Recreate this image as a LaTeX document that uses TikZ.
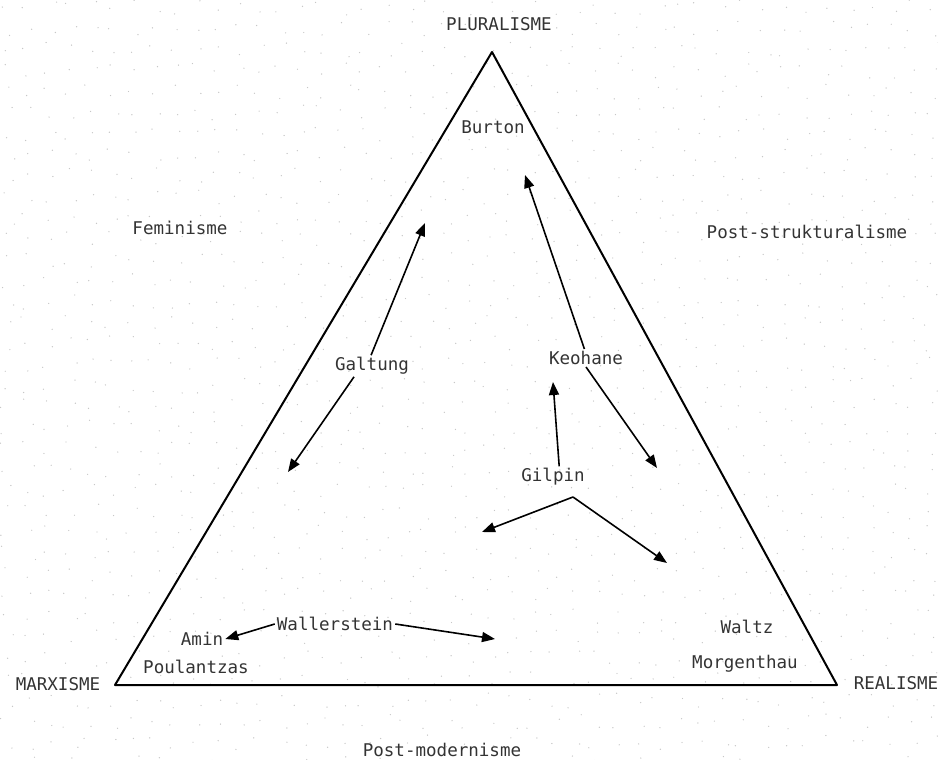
\documentclass[tikz,border=0pt]{standalone}
\usepackage{fontspec}
\setmonofont{DejaVu Sans Mono}
\usetikzlibrary{arrows.meta}

\tikzset{
  lbl/.style={font=\ttfamily\fontsize{17.6}{20}\selectfont, text=black!80, inner sep=2bp},
  arr/.style={-{Triangle[length=13bp,width=10bp]}, line width=1.6bp},
}

\begin{document}
\begin{tikzpicture}[x=1bp, y=-1bp]
                      \useasboundingbox (0,0) rectangle (938,760);
                      % faint dotted paper
                      \pgfmathsetseed{7}
                      \foreach \i in {0,...,44} \foreach \j in {0,...,36}
                        \fill[black!22] (\i*21+rnd*15, \j*21+rnd*15) circle (0.7bp);
                      % triangle
                      \draw[line width=2bp, line join=round] (492,52) -- (837,685) -- (115,685) -- cycle;
                      % corners and outside labels
                      \node[lbl] (pluralisme) at (499,24) {PLURALISME};
                      \node[lbl] (marxisme) at (58,684) {MARXISME};
                      \node[lbl] (realisme) at (896,683) {REALISME};
                      \node[lbl] (feminisme) at (180,228) {Feminisme};
                      \node[lbl] (poststruk) at (807,232) {Post-strukturalisme};
                      \node[lbl] (postmod) at (442,750) {Post-modernisme};
                      % names inside
                      \node[lbl] (burton) at (493,127) {Burton};
                      \node[lbl] (galtung) at (372,366) {Galtung};
                      \node[lbl] (keohane) at (586,358) {Keohane};
                      \node[lbl] (gilpin) at (553,477) {Gilpin};
                      \node[lbl] (wallerstein) at (335,624) {Wallerstein};
                      \node[lbl] (amin) at (202,639) {Amin};
                      \node[lbl] (poulantzas) at (196,667) {Poulantzas};
                      \node[lbl] (waltz) at (747,627) {Waltz};
                      \node[lbl] (morgenthau) at (745,664) {Morgenthau};
                      % free ends
                      \coordinate (galtungUp) at (425,223);
                      \coordinate (galtungDown) at (288,472);
                      \coordinate (keohaneUp) at (525,175);
                      \coordinate (keohaneDown) at (657,468);
                      \coordinate (gilpinUp) at (553,382);
                      \coordinate (gilpinSplit) at (573,497);
                      \coordinate (gilpinLeft) at (482,532);
                      \coordinate (gilpinRight) at (667,563);
                      \coordinate (wallRight) at (495,639);
                      % arrows
                      \draw[arr] (galtung.95) -- (galtungUp);
                      \draw[arr] (galtung.211) -- (galtungDown);
                      \draw[arr] (keohane.100) -- (keohaneUp);
                      \draw[arr] (keohane.south) -- (keohaneDown);
                      \draw[arr] (gilpin.60) -- (gilpinUp);
                      \draw[arr] (gilpinSplit) -- (gilpinLeft);
                      \draw[arr] (gilpinSplit) -- (gilpinRight);
                      \draw[arr] (wallerstein.west) -- (amin.east);
                      \draw[arr] (wallerstein.east) -- (wallRight);
                  \end{tikzpicture}
\end{document}
